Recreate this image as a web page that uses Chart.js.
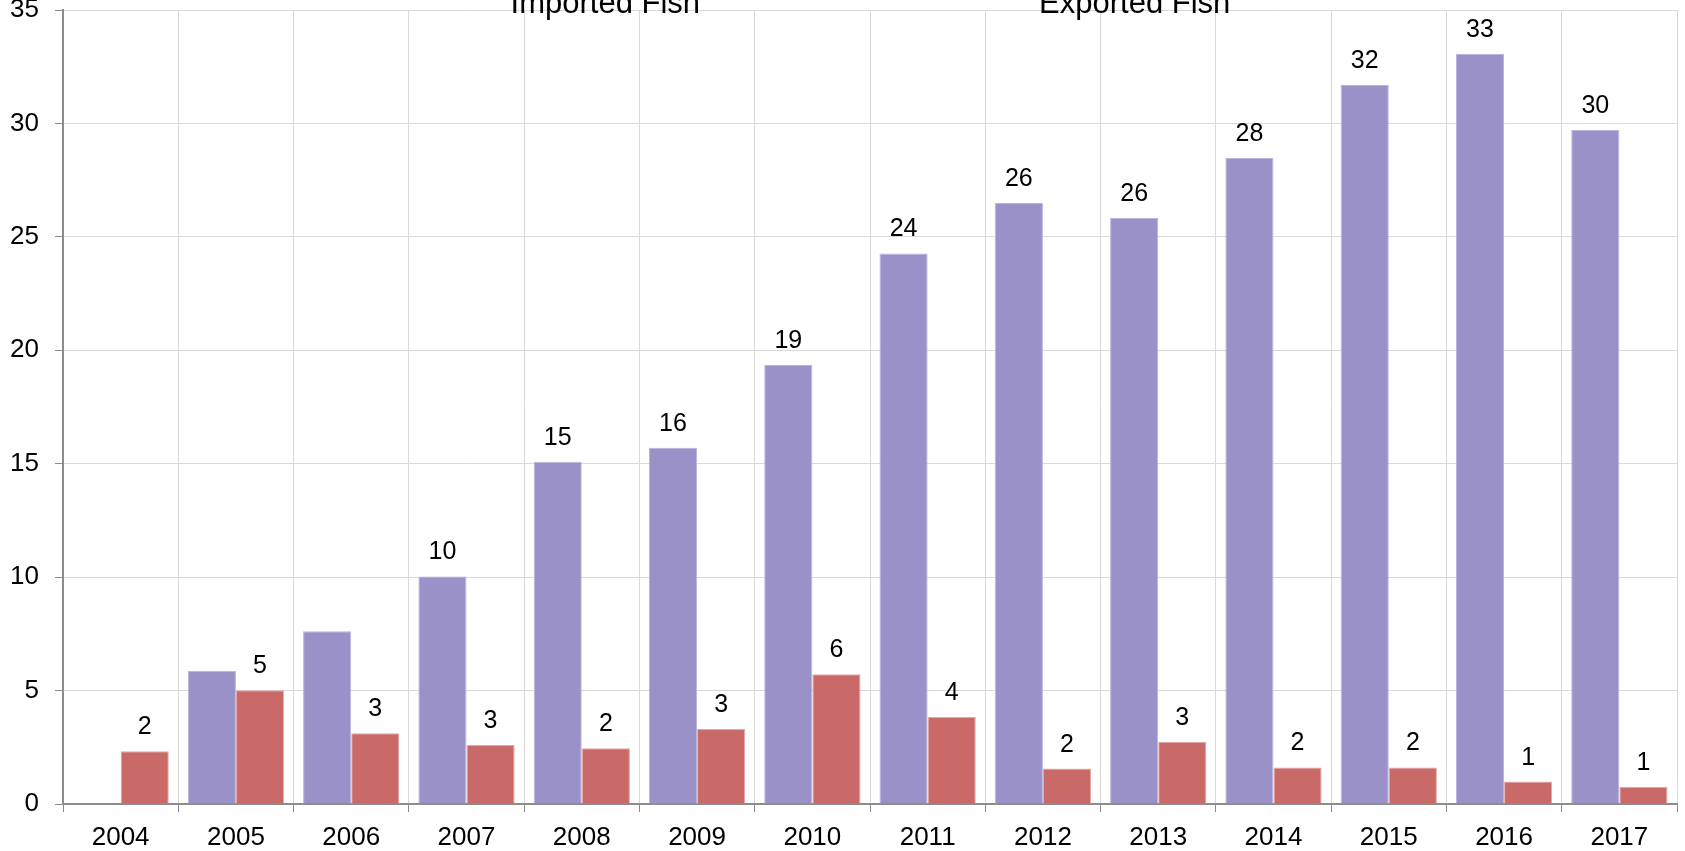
<!DOCTYPE html>
<html>
<head>
<meta charset="utf-8">
<script src="https://cdn.jsdelivr.net/npm/chart.js@4/dist/chart.umd.min.js"></script>
<style>
  html, body { margin: 0; padding: 0; background: #fff; overflow: hidden; }
  canvas { display: block; }
</style>
</head>
<body>
<canvas id="fish" width="1685" height="851"></canvas>
<script>
// values
const years = ["2004","2005","2006","2007","2008","2009","2010","2011","2012","2013","2014","2015","2016","2017"];
const imported = [null, 5.87, 7.62, 10.03, 15.09, 15.7, 19.35, 24.27, 26.49, 25.83, 28.48, 31.69, 33.07, 29.71];
const exported = [2.32, 5.01, 3.12, 2.6, 2.46, 3.31, 5.72, 3.83, 1.56, 2.74, 1.61, 1.61, 0.99, 0.76];
// value labels as printed above the bars (2005 and 2006 imported have none)
const importedLabels = [null, null, null, "10", "15", "16", "19", "24", "26", "26", "28", "32", "33", "30"];
const exportedLabels = ["2", "5", "3", "3", "2", "3", "6", "4", "2", "3", "2", "2", "1", "1"];
const yTicks = [0, 5, 10, 15, 20, 25, 30, 35];

const FONT = '"Liberation Sans", Arial, sans-serif';

const barLabels = {
  id: 'barLabels',
  afterDatasetsDraw(chart) {
    const ctx = chart.ctx;
    ctx.save();
    ctx.font = '25px ' + FONT;
    ctx.fillStyle = '#000';
    ctx.textAlign = 'center';
    ctx.textBaseline = 'alphabetic';
    [importedLabels, exportedLabels].forEach((labels, d) => {
      chart.getDatasetMeta(d).data.forEach((bar, i) => {
        if (labels[i] == null) return;
        ctx.fillText(labels[i], bar.x, bar.y - 17);
      });
    });
    ctx.restore();
  }
};

// legend text only, cut by the top edge like the original
const topLegend = {
  id: 'topLegend',
  afterDraw(chart) {
    const {ctx, chartArea} = chart;
    const sets = chart.data.datasets;
    const mid = (chartArea.left + chartArea.right) / 2;
    ctx.save();
    ctx.font = '31px ' + FONT;
    ctx.fillStyle = '#000';
    ctx.textAlign = 'center';
    ctx.textBaseline = 'alphabetic';
    sets.forEach((ds, i) => {
      const x = mid + (i - 0.5) * chartArea.width * 0.328;
      ctx.fillText(ds.label, x, chartArea.top + 3);
    });
    ctx.restore();
  }
};

new Chart(document.getElementById("fish"), {
  type: 'bar',
  data: {
    labels: years,
    datasets: [
      {
        label: "Imported Fish",
        data: imported,
        backgroundColor: "#9991c8",
        borderColor: "#b9b4dc",
        borderWidth: 1,
        categoryPercentage: 0.835,
        barPercentage: 1.0
      },
      {
        label: "Exported Fish",
        data: exported,
        backgroundColor: "#c96a68",
        borderColor: "#e3a9a7",
        borderWidth: 1,
        categoryPercentage: 0.835,
        barPercentage: 1.0
      }
    ]
  },
  options: {
    responsive: false,
    animation: false,
    devicePixelRatio: 1,
    layout: { padding: { top: 10, right: 8, left: 0, bottom: 0 } },
    plugins: {
      legend: { display: false },
      tooltip: { enabled: false },
      title: { display: false }
    },
    scales: {
      x: {
        afterFit: (s) => { s.height = 47; s.paddingLeft = 0; s.paddingRight = 0; },
        grid: { offset: true, color: '#d9d9d9', lineWidth: 1, tickColor: '#8c8c8c', tickLength: 8 },
        border: { color: '#8c8c8c', width: 2 },
        ticks: { color: '#000', padding: 10, font: { family: FONT, size: 26 } }
      },
      y: {
        min: 0,
        max: 35,
        afterFit: (s) => { s.width = 63; s.paddingTop = 0; s.paddingBottom = 0; },
        afterBuildTicks: (s) => { s.ticks = yTicks.map(v => ({ value: v })); },
        grid: { color: '#d9d9d9', lineWidth: 1, tickColor: '#8c8c8c', tickLength: 8 },
        border: { color: '#8c8c8c', width: 2 },
        ticks: { color: '#000', padding: 16, font: { family: FONT, size: 26 } }
      }
    }
  },
  plugins: [barLabels, topLegend]
});
</script>
</body>
</html>
